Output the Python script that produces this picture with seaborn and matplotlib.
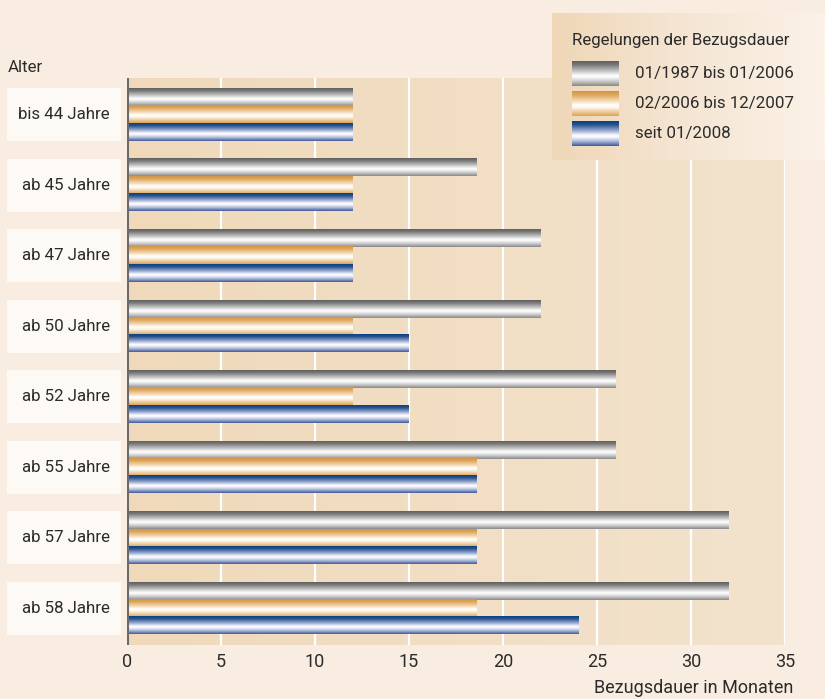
import numpy as np
import pandas as pd
import matplotlib
matplotlib.use("Agg")
import matplotlib.pyplot as plt
import seaborn as sns
from matplotlib.colors import LinearSegmentedColormap
from matplotlib.patches import Rectangle
from matplotlib.transforms import blended_transform_factory

# ---------------- data ----------------
categories = ["bis 44 Jahre", "ab 45 Jahre", "ab 47 Jahre", "ab 50 Jahre",
              "ab 52 Jahre", "ab 55 Jahre", "ab 57 Jahre", "ab 58 Jahre"]
series_names = ["01/1987 bis 01/2006", "02/2006 bis 12/2007", "seit 01/2008"]
s_1987 = [12, 18.6, 22, 22, 26, 26, 32, 32]
s_2006 = [12, 12, 12, 12, 12, 18.6, 18.6, 18.6]
s_2008 = [12, 12, 12, 15, 15, 18.6, 18.6, 24]
x_ticks = [0, 5, 10, 15, 20, 25, 30, 35]

legend_title = "Regelungen der Bezugsdauer"
y_title = "Alter"
x_title = "Bezugsdauer in Monaten"

df = pd.DataFrame({
    "Alter": categories * 3,
    "Monate": s_1987 + s_2006 + s_2008,
    "Regelung": [series_names[0]] * 8 + [series_names[1]] * 8 + [series_names[2]] * 8,
})

# ---------------- style ----------------
sns.set_theme(style="white")
plt.rcParams["font.family"] = ["Roboto", "DejaVu Sans"]
FS = 12.2
TEXT = "#2b2b2b"
FIG_BG = "#f9ede1"

cm_gray = LinearSegmentedColormap.from_list("g", [
    (0.0, "#5f5f5f"), (0.14, "#787878"), (0.36, "#b8b8b8"), (0.55, "#f4f4f4"),
    (0.62, "#ffffff"), (0.8, "#cfcfcf"), (1.0, "#8a8a8a")])
cm_orange = LinearSegmentedColormap.from_list("o", [
    (0.0, "#d39445"), (0.16, "#e0a95e"), (0.4, "#f5dbb8"), (0.55, "#ffffff"),
    (0.66, "#fff7ec"), (0.86, "#ecc592"), (1.0, "#dba45a")])
cm_blue = LinearSegmentedColormap.from_list("b", [
    (0.0, "#0b3f7f"), (0.14, "#26548f"), (0.36, "#8fa0cb"), (0.55, "#f3f4fb"),
    (0.62, "#ffffff"), (0.8, "#b5bedf"), (1.0, "#3f5b9b")])
cmaps = [cm_gray, cm_orange, cm_blue]
grad = np.linspace(0, 1, 64).reshape(-1, 1)

W, H = 825, 699
fig = plt.figure(figsize=(W / 100, H / 100), dpi=100)
fig.patch.set_facecolor(FIG_BG)

# plot area
ax = fig.add_axes([127 / W, 1 - 645 / H, (785 - 127) / W, (645 - 78) / H])
sns.barplot(data=df, y="Alter", x="Monate", hue="Regelung", orient="h",
            width=0.74, legend=False, ax=ax, palette=["#999999", "#e0a95e", "#26548f"])

# plot-area gradient background
bg = np.linspace(0, 1, 256).reshape(1, -1)
cm_bg = LinearSegmentedColormap.from_list("bg", ["#efd9ba", "#f3e3cd"])
ax.set_facecolor("none")
ax.imshow(bg, cmap=cm_bg, extent=[0, 35, 7.52, -0.52], aspect="auto", zorder=0)

# gradient bars
for cont, cmap in zip(ax.containers, cmaps):
    for p in cont.patches:
        x0, y0, w, h = p.get_x(), p.get_y(), p.get_width(), p.get_height()
        ax.imshow(grad, cmap=cmap, extent=[x0, x0 + w, y0 + h, y0],
                  origin="upper", aspect="auto", zorder=3, interpolation="bilinear")
        p.set_facecolor("none")
        p.set_edgecolor("none")

ax.set_xlim(0, 35)
ax.set_ylim(7.52, -0.52)
ax.set_xticks(x_ticks)
ax.set_xticklabels([str(t) for t in x_ticks], fontsize=13, color=TEXT)
ax.tick_params(axis="x", length=0, pad=6)
ax.set_yticks([])
ax.set_xlabel("")
ax.set_ylabel("")
for sp in ax.spines.values():
    sp.set_visible(False)
for t in x_ticks[1:]:
    ax.axvline(t, color="white", lw=1.6, zorder=1)
ax.axvline(0, color="#6a6a6a", lw=2.2, zorder=4)

# category label boxes
tr = blended_transform_factory(fig.transFigure, ax.transData)
for i, c in enumerate(categories):
    ax.add_patch(Rectangle((7 / W, i - 0.375), (121 - 7) / W, 0.75, transform=tr,
                           facecolor="#fdf9f4", edgecolor="none", clip_on=False))
    ax.text(110 / W, i, c, transform=tr, ha="right", va="center",
            fontsize=FS, color=TEXT)

# overlay for titles / legend in pixel coordinates
ov = fig.add_axes([0, 0, 1, 1], zorder=5)
ov.set_xlim(0, W)
ov.set_ylim(H, 0)
ov.axis("off")
ov.patch.set_alpha(0)

ov.text(8, 68, y_title, fontsize=FS, color=TEXT, va="center", ha="left")
ov.text(793, 688, x_title, fontsize=13, color=TEXT, va="center", ha="right")

lg = np.linspace(0, 1, 256).reshape(1, -1)
cm_lg = LinearSegmentedColormap.from_list("lg", ["#efd7b7", "#f5e6d4", "#fbf2e8"])
ov.imshow(lg, cmap=cm_lg, extent=[552, 825, 160, 13], aspect="auto", zorder=1)
ov.text(572, 41, legend_title, fontsize=FS, color=TEXT, va="center", ha="left", zorder=3)
for k, (name, cmap) in enumerate(zip(series_names, cmaps)):
    yt = 61 + 30 * k
    ov.imshow(grad, cmap=cmap, extent=[572, 619, yt + 25, yt], origin="upper",
              aspect="auto", zorder=2, interpolation="bilinear")
    ov.text(635, yt + 12.5, name, fontsize=FS, color=TEXT, va="center", ha="left", zorder=3)
ov.set_xlim(0, W)
ov.set_ylim(H, 0)

fig.savefig("out.png", dpi=100, facecolor=FIG_BG)
